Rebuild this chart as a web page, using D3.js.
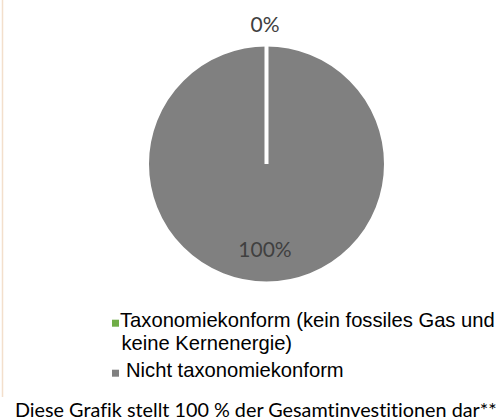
<!DOCTYPE html>
<html>
<head>
<meta charset="utf-8">
<script src="https://cdn.jsdelivr.net/npm/d3@7"></script>
<style>
  html, body { margin: 0; padding: 0; background: #fff; }
  svg { display: block; }
  text { font-variant-ligatures: none; font-feature-settings: "liga" 0, "clig" 0; }
</style>
</head>
<body>
<svg id="chart" width="504" height="420"></svg>
<script>
// === Data ===
const categories = [
  "Taxonomiekonform (kein fossiles Gas und keine Kernenergie)",
  "Nicht taxonomiekonform"
];
const values = [0, 100];
const valueLabels = ["0%", "100%"];
const footnote = "Diese Grafik stellt 100 % der Gesamtinvestitionen dar**";

// === Setup ===
const svg = d3.select("#chart");

const color = d3.scaleOrdinal()
  .domain(categories)
  .range(["#70ad47", "#808080"]);

// thin frame line on the left edge
svg.append("line")
  .attr("x1", 2.5).attr("x2", 2.5)
  .attr("y1", 0).attr("y2", 397)
  .attr("stroke", "#f3dfcc")
  .attr("stroke-width", 1.5);

// === Pie ===
const cx = 266.5, cy = 164, radius = 119.5;

const pie = d3.pie().sort(null).value(d => d.value);
const slices = pie(categories.map((c, i) => ({ name: c, value: values[i], label: valueLabels[i] })));

const arc = d3.arc().innerRadius(0).outerRadius(radius);

const g = svg.append("g").attr("transform", `translate(${cx},${cy})`);

// draw big slices first so the white border of the empty slice stays on top
g.selectAll("path")
  .data(slices.slice().sort((a, b) => b.value - a.value))
  .enter().append("path")
  .attr("d", arc)
  .attr("fill", d => color(d.data.name))
  .attr("stroke", "#fff")
  .attr("stroke-width", 4);

// labels: empty slice sits outside, full slice inside
const outsideArc = d3.arc().innerRadius(radius + 20).outerRadius(radius + 20);
const insideArc = d3.arc().innerRadius(radius * 0.72).outerRadius(radius * 0.72);

g.selectAll("text.val")
  .data(slices)
  .enter().append("text")
  .attr("class", "val")
  .attr("transform", d => {
    const p = (d.endAngle - d.startAngle) < 0.3 ? outsideArc.centroid(d) : insideArc.centroid(d);
    return `translate(${p[0] - 1.5},${p[1]})`;
  })
  .attr("dy", "0.35em")
  .attr("text-anchor", "middle")
  .style("font-family", "Lato, sans-serif")
  .style("font-size", "21px")
  .attr("fill", "#404040")
  .text(d => d.data.label);

// === Legend ===
const legendX = 112, textX = 120, maxW = 385, lineH = 23.5;
const legendFont = "'Liberation Sans', Arial, sans-serif";
let y = 326.7;

categories.forEach((c, i) => {
  const words = c.split(" ");
  const lines = [];
  let cur = "";
  const probe = svg.append("text")
    .style("font-family", legendFont)
    .style("font-size", "20.2px");
  words.forEach(w => {
    const test = cur ? cur + " " + w : w;
    probe.text(test);
    if (probe.node().getComputedTextLength() > maxW && cur) {
      lines.push(cur);
      cur = w;
    } else {
      cur = test;
    }
  });
  lines.push(cur);
  probe.remove();

  svg.append("rect")
    .attr("x", legendX)
    .attr("y", y - 7)
    .attr("width", 7)
    .attr("height", 7)
    .attr("fill", color(c));

  lines.forEach((ln, k) => {
    svg.append("text")
      .attr("x", textX + (i === 1 ? 6 : 0) + (k > 0 ? 1.5 : 0))
      .attr("y", y)
      .style("font-family", legendFont)
      .style("font-size", "20.2px")
      .attr("fill", "#000")
      .text(ln);
    y += lineH;
  });
  y += 3;
});

// === Footnote ===
svg.append("text")
  .attr("x", 15)
  .attr("y", 416.5)
  .style("font-family", "Lato, sans-serif")
  .style("font-size", "19.8px")
  .attr("fill", "#000")
  .text(footnote);
</script>
</body>
</html>
